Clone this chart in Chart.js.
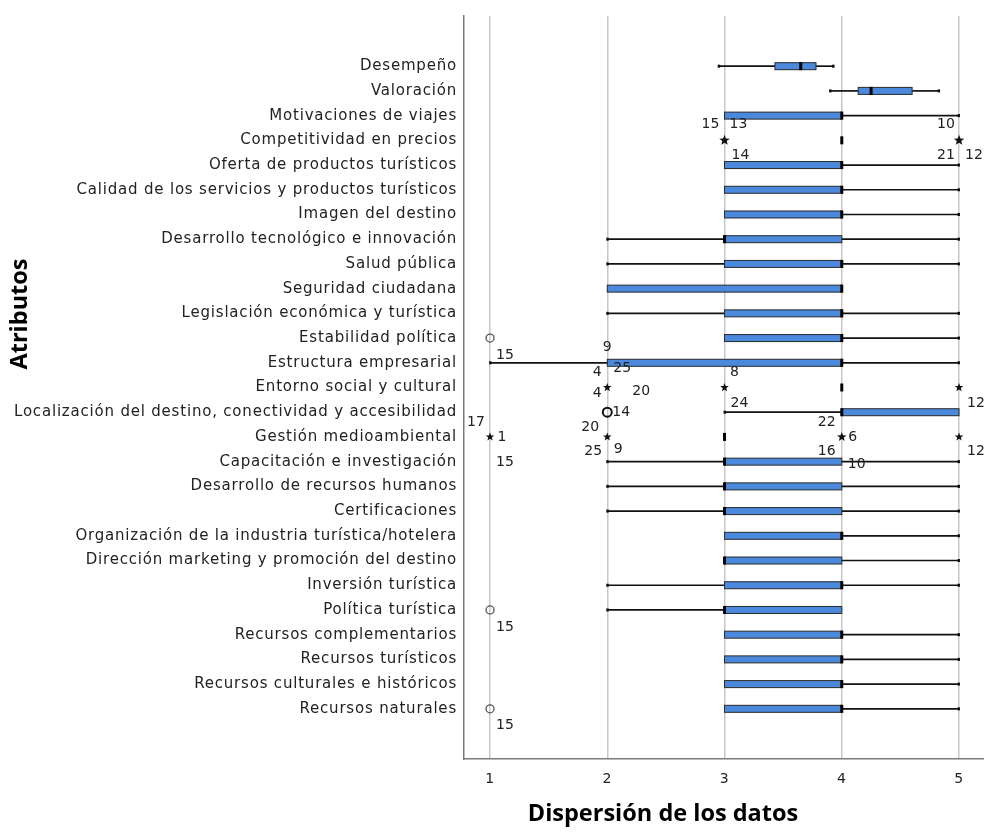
<!DOCTYPE html>
<html>
<head>
<meta charset="utf-8">
<script src="https://cdn.jsdelivr.net/npm/chart.js@4.4.1/dist/chart.umd.min.js"></script>
<style>
  body { margin: 0; background: #fff; }
  #wrap { width: 984px; height: 835px; }
</style>
</head>
<body>
<div id="wrap"><canvas id="box-chart" width="984" height="835"></canvas></div>
<script>
// atributos, de arriba hacia abajo
var categories = [
  'Desempeño', 'Valoración', 'Motivaciones de viajes', 'Competitividad en precios',
  'Oferta de productos turísticos', 'Calidad de los servicios y productos turísticos',
  'Imagen del destino', 'Desarrollo tecnológico e innovación', 'Salud pública',
  'Seguridad ciudadana', 'Legislación económica y turística', 'Estabilidad política',
  'Estructura empresarial', 'Entorno social y cultural',
  'Localización del destino, conectividad y accesibilidad', 'Gestión medioambiental',
  'Capacitación e investigación', 'Desarrollo de recursos humanos', 'Certificaciones',
  'Organización de la industria turística/hotelera', 'Dirección marketing y promoción del destino',
  'Inversión turística', 'Política turística', 'Recursos complementarios',
  'Recursos turísticos', 'Recursos culturales e históricos', 'Recursos naturales'
];

var whiskerLow  = [2.95, 3.90, 3, 4, 3, 3, 3, 2, 2, 2, 2, 3, 1, 4, 3, 3, 2, 2, 2, 3, 3, 2, 2, 3, 3, 3, 3];
var q1          = [3.43, 4.14, 3, 4, 3, 3, 3, 3, 3, 2, 3, 3, 2, 4, 4, 3, 3, 3, 3, 3, 3, 3, 3, 3, 3, 3, 3];
var median      = [3.65, 4.25, 4, 4, 4, 4, 4, 3, 4, 4, 4, 4, 4, 4, 4, 3, 3, 3, 3, 4, 3, 4, 3, 4, 4, 4, 4];
var q3          = [3.78, 4.60, 4, 4, 4, 4, 4, 4, 4, 4, 4, 4, 4, 4, 5, 3, 4, 4, 4, 4, 4, 4, 4, 4, 4, 4, 4];
var whiskerHigh = [3.93, 4.83, 5, 4, 5, 5, 5, 5, 5, 4, 5, 5, 5, 4, 5, 3, 5, 5, 5, 5, 5, 5, 4, 5, 5, 5, 5];

// valores atipicos (o) y extremos (*)
var outlierRow   = [3, 3, 11, 13, 13, 13, 14, 15, 15, 15, 15, 22, 26];
var outlierValue = [3, 5, 1, 2, 3, 5, 2, 1, 2, 4, 5, 1, 1];
var outlierKind  = ['star', 'star', 'circle', 'star', 'star', 'star', 'circle', 'star', 'star', 'star', 'star', 'circle', 'circle'];
var outlierCases = [
  ['15', '13', '14'], ['10', '21', '12'], ['15'], ['9', '4', '25', '4', '20'], ['8', '24'], ['12'],
  ['14'], ['17', '1', '15'], ['20', '25', '9'], ['22', '6', '16', '10'], ['12'], ['15'], ['15']
];

var xTicks = [1, 2, 3, 4, 5];

// donde va cada numero de caso respecto a su marca (px)
var caseOffsets = [
  [[-14, -16], [14, -16], [16, 15]],
  [[-13, -16], [-13, 15], [15, 15]],
  [[15, 17]],
  [[0, -40], [-10, -15], [15, -19], [-10, 6], [34, 4]],
  [[10, -15], [15, 16]],
  [[17, 16]],
  [[14, 0]],
  [[-14, -15], [12, 0], [15, 25]],
  [[-17, -10], [-14, 14], [11, 12]],
  [[-15, -15], [11, 0], [-15, 14], [15, 27]],
  [[17, 14]],
  [[15, 17]],
  [[15, 17]]
];
var markSize = [5.5, 5.5, 4, 4.5, 4.5, 4.5, 4.5, 4.5, 4.5, 5, 4.5, 4, 4];

function drawStar(ctx, x, y, r) {
  ctx.beginPath();
  for (var k = 0; k < 10; k++) {
    var a = -Math.PI / 2 + k * Math.PI / 5;
    var rr = k % 2 === 0 ? r : r * 0.42;
    var px = x + rr * Math.cos(a), py = y + rr * Math.sin(a);
    if (k === 0) ctx.moveTo(px, py); else ctx.lineTo(px, py);
  }
  ctx.closePath();
  ctx.fillStyle = '#111';
  ctx.fill();
}

// el texto del original va un poco espaciado
var spacingPlugin = {
  id: 'spacing',
  beforeDraw: function(chart) { chart.ctx.letterSpacing = '0.8px'; },
  afterDraw: function(chart) { chart.ctx.letterSpacing = '0px'; }
};

var boxPlotPlugin = {
  id: 'boxPlot',
  afterDatasetsDraw: function(chart) {
    var ctx = chart.ctx;
    var xs = chart.scales.x, ys = chart.scales.y;
    var h = 7;
    ctx.save();
    ctx.letterSpacing = '0px';
    for (var i = 0; i < categories.length; i++) {
      var y = ys.getPixelForValue(i);
      var wl = xs.getPixelForValue(whiskerLow[i]);
      var b1 = xs.getPixelForValue(q1[i]);
      var md = xs.getPixelForValue(median[i]);
      var b3 = xs.getPixelForValue(q3[i]);
      var wh = xs.getPixelForValue(whiskerHigh[i]);

      ctx.strokeStyle = '#111';
      ctx.lineWidth = 1.7;
      if (wl < b1) {
        ctx.beginPath(); ctx.moveTo(wl, y); ctx.lineTo(b1, y); ctx.stroke();
        ctx.fillStyle = '#111'; ctx.fillRect(wl - 1, y - 1.5, 2.5, 3);
      }
      if (wh > b3) {
        ctx.beginPath(); ctx.moveTo(b3, y); ctx.lineTo(wh, y); ctx.stroke();
        ctx.fillStyle = '#111'; ctx.fillRect(wh - 1.5, y - 1.5, 2.5, 3);
      }
      if (b3 > b1) {
        ctx.fillStyle = '#4a89dc';
        ctx.fillRect(b1, y - h / 2, b3 - b1, h);
        ctx.strokeStyle = '#2a2a2a';
        ctx.lineWidth = 1;
        ctx.strokeRect(b1, y - h / 2, b3 - b1, h);
      }
      ctx.fillStyle = '#000';
      ctx.fillRect(md - 1.5, y - h / 2 - 0.5, 3, h + 1);
    }

    ctx.font = '14px "DejaVu Sans"';
    ctx.textAlign = 'center';
    ctx.textBaseline = 'middle';
    for (var j = 0; j < outlierRow.length; j++) {
      var ox = xs.getPixelForValue(outlierValue[j]);
      var oy = ys.getPixelForValue(outlierRow[j]);
      if (outlierKind[j] === 'star') {
        drawStar(ctx, ox, oy, markSize[j]);
      } else {
        ctx.beginPath();
        ctx.arc(ox, oy, markSize[j], 0, Math.PI * 2);
        ctx.strokeStyle = j === 6 ? '#111' : '#555';
        ctx.lineWidth = j === 6 ? 2 : 1.3;
        ctx.stroke();
      }
      ctx.fillStyle = '#222';
      for (var c = 0; c < outlierCases[j].length; c++) {
        var off = caseOffsets[j][c];
        ctx.fillText(outlierCases[j][c], ox + off[0], oy + off[1]);
      }
    }

    // titulos de ejes
    ctx.fillStyle = '#000';
    ctx.font = 'bold 23.5px "Open Sans"';
    ctx.fillText('Dispersión de los datos', 663, 814);
    ctx.translate(20, 314);
    ctx.rotate(-Math.PI / 2);
    ctx.fillText('Atributos', 0, 0);
    ctx.restore();
  }
};

new Chart(document.getElementById('box-chart'), {
  type: 'scatter',
  data: { datasets: [] },
  options: {
    responsive: false,
    animation: false,
    layout: { padding: { top: 5, right: 0, bottom: 0, left: 0 } },
    plugins: { legend: { display: false }, tooltip: { enabled: false } },
    scales: {
      x: {
        type: 'linear',
        position: 'bottom',
        min: 0.778,
        max: 5.213,
        afterBuildTicks: function(axis) { axis.ticks = xTicks.map(function(v) { return { value: v }; }); },
        afterFit: function(axis) { axis.height = 76; },
        grid: { color: '#c8c8c8', lineWidth: 1.5, drawTicks: false },
        border: { color: '#7a7a7a', width: 1.5 },
        ticks: { padding: 12, color: '#222', font: { family: 'DejaVu Sans', size: 14 } }
      },
      y: {
        type: 'linear',
        reverse: true,
        min: -2.03,
        max: 28.03,
        afterBuildTicks: function(axis) { axis.ticks = categories.map(function(c, i) { return { value: i }; }); },
        afterFit: function(axis) { axis.width = 464; },
        grid: { display: false, drawTicks: false },
        border: { color: '#7a7a7a', width: 1.5 },
        ticks: {
          autoSkip: false,
          padding: 7,
          color: '#222',
          font: { family: 'DejaVu Sans', size: 15 },
          callback: function(v) { return categories[v]; }
        }
      }
    }
  },
  plugins: [spacingPlugin, boxPlotPlugin]
});
</script>
</body>
</html>
